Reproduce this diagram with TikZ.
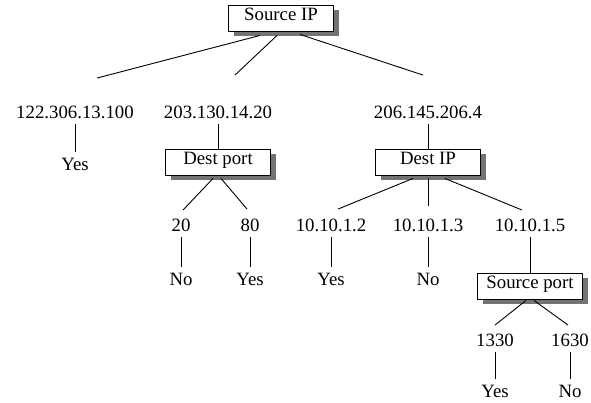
\documentclass[tikz,border=0pt]{standalone}
\usepackage{fontspec}
\setmainfont{Liberation Serif}
\usetikzlibrary{calc,shadows}

\begin{document}
\begin{tikzpicture}[x=1pt, y=-1pt, line width=0.9pt,
  font=\fontsize{18.8}{22}\selectfont,
  field/.style={draw, fill=white, minimum width=105pt, minimum height=26pt,
    inner ysep=0pt, text height=0.7em, text depth=0.2em,
    drop shadow={shadow xshift=5pt, shadow yshift=-5pt, fill=black!55, opacity=1}},
  val/.style={inner xsep=0pt, inner ysep=5pt, anchor=base}]
\useasboundingbox (0,0) rectangle (591,402);
% Root test
\node[field] (srcip) at (281,18) {Source IP};
% First level
\node[val] (ipA) at (75,118) {122.306.13.100};
\node[val] (ipB) at (218,118) {203.130.14.20};
\node[val] (ipC) at (428,118) {206.145.206.4};
\node[val] (yesA) at (75,170) {Yes};
\node[field] (dport) at (218,162) {Dest port};
\node[field] (dip) at (428,162) {Dest IP};
% Destination ports
\node[val] (portA) at (181,231) {20};
\node[val] (portB) at (250,231) {80};
\node[val] (noA) at (181,285) {No};
\node[val] (yesB) at (250,285) {Yes};
% Destination hosts
\node[val] (hostA) at (331,231) {10.10.1.2};
\node[val] (hostB) at (428,231) {10.10.1.3};
\node[val] (hostC) at (530,231) {10.10.1.5};
\node[val] (yesC) at (331,285) {Yes};
\node[val] (noB) at (428,285) {No};
\node[field] (sport) at (530,286) {Source port};
% Source ports
\node[val] (sportA) at (495,346) {1330};
\node[val] (sportB) at (570,346) {1630};
\node[val] (yesD) at (495,397) {Yes};
\node[val] (noC) at (570,397) {No};
% Branches
\draw ($(srcip.south)+(-21,4)$) -- ($(ipA.north)+(22,-22)$);
\draw ($(srcip.south)+(-4,4)$) -- ($(ipB.north)+(17,-25)$);
\draw ($(srcip.south)+(19,3)$) -- ($(ipC.north)+(-5,-25)$);
\draw (ipA) -- (yesA);
\draw (ipB) -- (dport);
\draw (ipC) -- (dip);
\draw ($(dport.south)+(-5,3)$) -- ($(portA.north)+(2,-3)$);
\draw ($(dport.south)+(3,3)$) -- ($(portB.north)+(-3,-4)$);
\draw (portA) -- (noA);
\draw (portB) -- (yesB);
\draw ($(dip.south)+(-15,3)$) -- ($(hostA.north)+(7,-4)$);
\draw ($(dip.south)+(0,3)$) -- ($(hostB.north)+(0,-7)$);
\draw ($(dip.south)+(17,3)$) -- ($(hostC.north)+(-8,-3)$);
\draw (hostA) -- (yesC);
\draw (hostB) -- (noB);
\draw (hostC) -- (sport);
\draw ($(sport.south)+(-4,1)$) -- ($(sportA.north)+(0,-3)$);
\draw ($(sport.south)+(4,1)$) -- ($(sportB.north)+(-2,-3)$);
\draw (sportA) -- (yesD);
\draw (sportB) -- (noC);
\end{tikzpicture}
\end{document}
